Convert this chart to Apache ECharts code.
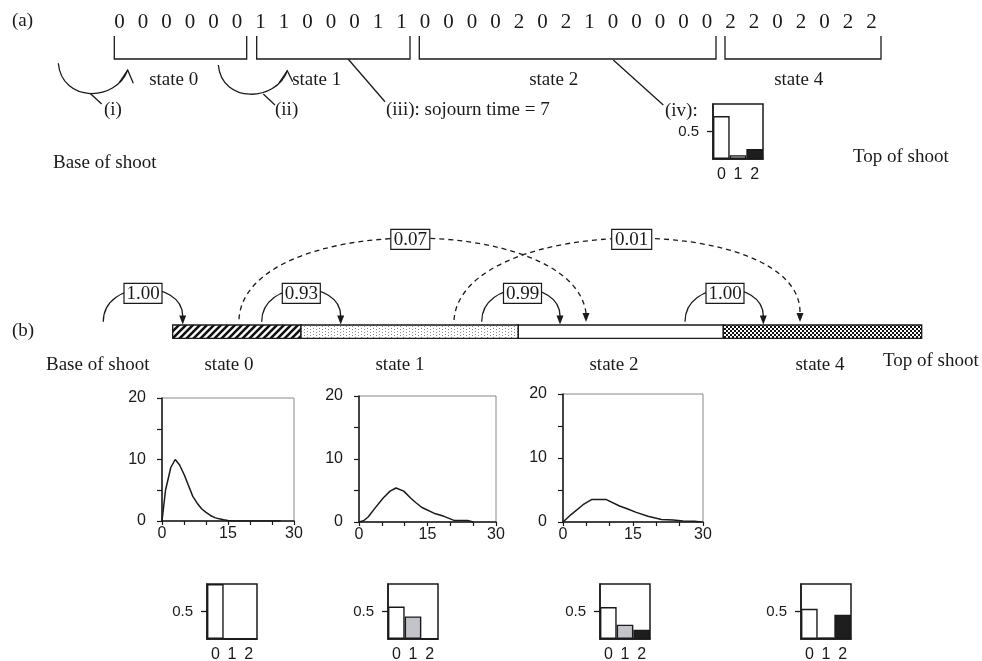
<!DOCTYPE html>
<html><head><meta charset="utf-8">
<script src="https://cdn.jsdelivr.net/npm/echarts@6/dist/echarts.min.js"></script>
<style>html,body{margin:0;padding:0;background:#fff}#c{width:982px;height:661px}</style>
</head><body><div id="c"></div>
<script>
// ---------- data ----------
const sequence = [0,0,0,0,0,0, 1,1,0,0,0,1,1, 0,0,0,0,2,0,2,1,0,0,0,0,0, 2,2,0,2,0,2,2];
const stateNames = ['state 0','state 1','state 2','state 4'];
const transitionLabels = ['1.00','0.93','0.99','1.00'];
const skipLabels = ['0.07','0.01'];
const obsCategories = ['0','1','2'];
const obsIV = [0.78, 0.07, 0.18];
const obsState0 = [1.0, 0, 0];
const obsState1 = [0.59, 0.41, 0];
const obsState2 = [0.58, 0.26, 0.17];
const obsState4 = [0.55, 0.03, 0.44];
const sojournX0 = [0,0.8,2,3,4,5,6,7,8,9,10,11,12,13,14,15,16,17,27];
const sojournY0 = [0,5,8.7,10,9.1,7.6,5.8,4.0,2.9,2.0,1.4,0.9,0.55,0.35,0.2,0.08,0.02,0,0];
const sojournX1 = [0,1,2,3.5,5.3,6.8,8.1,9.8,11.3,12.4,13.8,16.4,18.6,20.8,23.8,25];
const sojournY1 = [0,0.2,0.8,2.2,3.8,4.9,5.4,4.9,3.8,3.1,2.3,1.4,0.9,0.25,0.25,0];
const sojournX2 = [0,1.8,4.3,6.1,9.3,12.1,13.6,15.7,18.2,21.1,23.6,25.7,28.2,29.6];
const sojournY2 = [0,1.2,2.7,3.5,3.5,2.5,2.1,1.5,0.9,0.4,0.3,0.15,0.1,0];
const sojournTicks = [0,15,30];
const densityTicks = [0,10,20];

// ---------- helpers ----------
const INK = '#1a1a1a';
const SERIF = '"Liberation Serif", "Times New Roman", serif';
const SANS = '"Liberation Sans", Arial, sans-serif';
function txt(x, y, s, align, size) {
  return {type:'text', x:x, y:y, silent:true, z:20,
    style:{text:s, font:(size||19)+'px '+SERIF, fill:INK,
      textAlign:align||'center', textVerticalAlign:'middle', align:align||'center', verticalAlign:'middle'}};
}
function line(pts, w, dash) {
  return {type:'polyline', silent:true, z:5, shape:{points:pts},
    style:{stroke:INK, lineWidth:w||1.3, fill:null, lineDash:dash||null}};
}
function bez(p0, c1, c2, p3, dash) {
  return {type:'bezierCurve', silent:true, z:5,
    shape:{x1:p0[0], y1:p0[1], cpx1:c1[0], cpy1:c1[1], cpx2:c2[0], cpy2:c2[1], x2:p3[0], y2:p3[1]},
    style:{stroke:INK, lineWidth:1.3, fill:null, lineDash:dash||null}};
}
function arrowDown(x, tipY) {
  return {type:'polygon', silent:true, z:6, shape:{points:[[x, tipY],[x-3.5, tipY-9],[x+3.5, tipY-9]]},
    style:{fill:INK, stroke:null}};
}
function box(cx, cy, s, w) {
  w = w || 38;
  return [
    {type:'rect', silent:true, z:10, shape:{x:cx-w/2, y:cy-10, width:w, height:20},
      style:{fill:'#fff', stroke:INK, lineWidth:1.2}},
    txt(cx, cy+1, s, 'center', 19)
  ];
}
function tile(w, h, draw) {
  const c = document.createElement('canvas'); c.width = w; c.height = h;
  const g = c.getContext('2d'); g.fillStyle = '#fff'; g.fillRect(0,0,w,h); draw(g); return c;
}
const hatch = tile(7, 7, g => {
  g.strokeStyle = '#111'; g.lineWidth = 2.6; g.beginPath();
  g.moveTo(-1, 1); g.lineTo(1, -1); g.moveTo(0, 7); g.lineTo(7, 0); g.moveTo(6, 8); g.lineTo(8, 6); g.stroke();
});
const dots = tile(6, 6, g => {
  g.fillStyle = '#8a8a8a'; g.fillRect(1,1,1,1); g.fillRect(1,4,1,1); g.fillRect(4,2,1,1); g.fillRect(4,5,1,1);
});
const checker = tile(4, 4, g => {
  g.fillStyle = '#111'; g.fillRect(0,0,2,2); g.fillRect(2,2,2,2);
});

// ---------- graphic layout ----------
const G = [];
G.push(txt(12, 21, '(a)', 'left'));
// brackets
[[114.3,246.7],[256.7,410],[419.3,716],[725,881]].forEach(b => G.push(line([[b[0],36],[b[0],59],[b[1],59],[b[1],36]], 1.3)));
// state labels (a)
[[173.7,80],[316.7,80],[553.7,80],[798.7,80]].forEach((p,i) => G.push(txt(p[0], p[1], stateNames[i], 'center')));
// self-transition arcs (a)
G.push(bez([58.3,63.3],[62,103],[116,102],[127.7,70]));
G.push(line([[119.3,82.7],[127.7,70],[133.3,83.3]], 1.3));
G.push(bez([218.3,65],[222,104],[276,102],[287.3,70.7]));
G.push(line([[279.3,82.7],[287.3,70.7],[292.7,81.7]], 1.3));
// leaders
G.push(line([[90,93.3],[101.7,104]]));
G.push(line([[263.3,94],[275,105]]));
G.push(line([[348.3,59.3],[385,101.7]]));
G.push(line([[613.3,60],[663.3,105]]));
G.push(txt(104, 110, '(i)', 'left'));
G.push(txt(275, 110, '(ii)', 'left'));
G.push(txt(386, 110, '(iii): sojourn time = 7', 'left'));
G.push(txt(665, 111, '(iv):', 'left'));
G.push(txt(53, 163, 'Base of shoot', 'left'));
G.push(txt(853, 157, 'Top of shoot', 'left'));

// (b)
G.push(txt(12, 331, '(b)', 'left'));
const bandY = 325, bandH = 13.3;
const bandSeg = [[172.7,301,hatch],[301,518.3,dots],[518.3,723.3,null],[723.3,921.7,checker]];
bandSeg.forEach(s => G.push({type:'rect', silent:true, z:3, shape:{x:s[0], y:bandY, width:s[1]-s[0], height:bandH},
  style:{fill: s[2] ? {image:s[2], repeat:'repeat'} : '#fff', stroke:INK, lineWidth:1.3}}));
// dashed skip arcs
G.push(bez([239,319.3],[245,212],[573,212],[586,313], [5,4]));
G.push(arrowDown(586, 322));
G.push(bez([454,320],[462,212],[802,212],[800,313], [5,4]));
G.push(arrowDown(800, 322));
// solid arcs
[[103.3,182.7,143],[261.7,340.7,301.3],[481.7,560,522.5],[685,763.3,725]].forEach((a,i) => {
  G.push(bez([a[0],321.7],[a[0],279],[a[1],279],[a[1],316]));
  G.push(arrowDown(a[1], 324.5));
  box(a[2], 293.3, transitionLabels[i]).forEach(e => G.push(e));
});
box(410.3, 239.3, skipLabels[0], 39).forEach(e => G.push(e));
box(631.7, 239.3, skipLabels[1], 40).forEach(e => G.push(e));
G.push(txt(46, 365, 'Base of shoot', 'left'));
[[229,365],[400,365],[614,365],[820,365]].forEach((p,i) => G.push(txt(p[0], p[1], stateNames[i], 'center')));
G.push(txt(883, 361, 'Top of shoot', 'left'));

// ---------- grids & axes ----------
const grids = [], xAxes = [], yAxes = [], series = [];
function lineChart(l, t, w, h, xs, ys) {
  const gi = grids.length;
  grids.push({left:l, top:t, width:w, height:h, show:true, borderColor:'#888', borderWidth:1,
    backgroundColor:'transparent', containLabel:false, outerBoundsMode:'none'});
  xAxes.push({gridIndex:gi, type:'value', min:0, max:30, interval:5,
    axisLine:{show:true, onZero:false, lineStyle:{color:INK, width:1.5}},
    axisTick:{show:true, length:4, lineStyle:{color:INK, width:1.2}},
    axisLabel:{customValues:sojournTicks, color:INK, fontFamily:SANS, fontSize:16, margin:5},
    splitLine:{show:false}});
  yAxes.push({gridIndex:gi, type:'value', min:0, max:20, interval:5,
    axisLine:{show:true, onZero:false, lineStyle:{color:INK, width:1.5}},
    axisTick:{show:true, length:5, lineStyle:{color:INK, width:1.2}},
    axisLabel:{customValues:densityTicks, color:INK, fontFamily:SANS, fontSize:16, margin:16},
    splitLine:{show:false}});
  series.push({type:'line', xAxisIndex:gi, yAxisIndex:gi, showSymbol:false, symbol:'none', silent:true,
    lineStyle:{color:INK, width:1.5}, data: xs.map((x,i) => [x, ys[i]])});
}
function barChart(l, t, vals) {
  const gi = grids.length;
  grids.push({left:l, top:t, width:50, height:55, show:true, borderColor:INK, borderWidth:1.5,
    backgroundColor:'transparent', containLabel:false, outerBoundsMode:'none'});
  xAxes.push({gridIndex:gi, type:'category', data:obsCategories,
    axisLine:{show:true, lineStyle:{color:INK, width:1.5}}, axisTick:{show:false},
    axisLabel:{color:INK, fontFamily:SANS, fontSize:16, margin:8}});
  yAxes.push({gridIndex:gi, type:'value', min:0, max:1, interval:0.5,
    axisLine:{show:true, lineStyle:{color:INK, width:1.5}},
    axisTick:{show:true, customValues:[0.5], length:6, lineStyle:{color:INK, width:1.3}},
    axisLabel:{customValues:[0.5], color:INK, fontFamily:SANS, fontSize:15, margin:14},
    splitLine:{show:false}});
  const fills = ['#ffffff', '#c2c4ca', '#1e1e1e'];
  series.push({type:'bar', xAxisIndex:gi, yAxisIndex:gi, barCategoryGap:'0%', silent:true,
    data: vals.map((v,i) => ({value:v, itemStyle:{color:fills[i], borderColor:INK, borderWidth:1.4}}))});
}
lineChart(162, 398, 132, 123, sojournX0, sojournY0);
lineChart(359, 396, 137, 126, sojournX1, sojournY1);
lineChart(563, 394, 140, 128, sojournX2, sojournY2);
barChart(713, 104, obsIV);
barChart(207, 584, obsState0);
barChart(388, 584, obsState1);
barChart(600, 584, obsState2);
barChart(801, 584, obsState4);

// digit sequence via hidden grid
const gd = grids.length;
grids.push({left:108.25, top:0, width:775.5, height:45, containLabel:false, outerBoundsMode:'none'});
xAxes.push({gridIndex:gd, type:'value', min:-0.5, max:32.5, show:false});
yAxes.push({gridIndex:gd, type:'value', min:-1, max:1, show:false});
series.push({type:'scatter', xAxisIndex:gd, yAxisIndex:gd, symbolSize:1, silent:true,
  itemStyle:{color:'rgba(0,0,0,0)'},
  data: sequence.map((d,i) => [i, 0]),
  label:{show:true, position:[0,0], align:'center', verticalAlign:'middle',
    formatter: p => String(sequence[p.dataIndex]),
    fontFamily:SERIF, fontSize:21, color:INK, textBorderWidth:0, opacity:1}});

const chart = echarts.init(document.getElementById('c'), null, {renderer:'canvas'});
chart.setOption({animation:false, backgroundColor:'#fff', grid:grids, xAxis:xAxes, yAxis:yAxes, series:series, graphic:G});
</script></body></html>
